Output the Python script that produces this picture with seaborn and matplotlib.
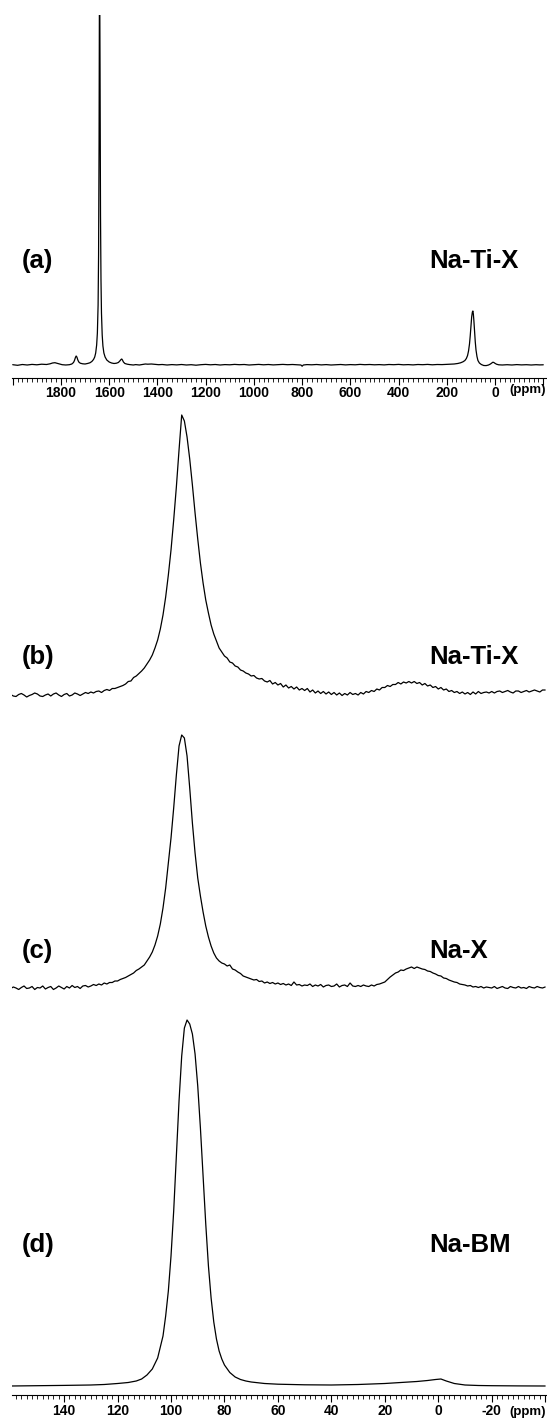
import numpy as np
import pandas as pd
import matplotlib
matplotlib.use("Agg")
import matplotlib.pyplot as plt
import seaborn as sns
from matplotlib.ticker import MultipleLocator, FuncFormatter

sns.set_theme(style="white")
plt.rcParams['font.family'] = ['Liberation Sans', 'DejaVu Sans']
plt.rcParams['text.color'] = 'black'

# ---------------- data ----------------
# panel (a): wide 23Na scan, ppm vs intensity (arbitrary units)
a_ppm = [2000, 1980, 1960, 1940, 1920, 1900, 1880, 1860, 1845, 1835, 1825, 1815, 1805, 1795,
         1780, 1765, 1755, 1748, 1744, 1740, 1737, 1734, 1730, 1726, 1720, 1710, 1700, 1690,
         1680, 1672, 1665, 1660, 1656, 1652, 1649, 1646, 1644, 1642, 1640, 1638, 1636, 1634,
         1632, 1629, 1626, 1622, 1617, 1610, 1600, 1590, 1580, 1570, 1562, 1556, 1551, 1548,
         1545, 1541, 1535, 1525, 1515, 1500, 1490, 1475, 1460, 1450, 1440, 1425, 1410, 1395,
         1380, 1360, 1340, 1320, 1300, 1280, 1260, 1240, 1220, 1200, 1180, 1160, 1140, 1120,
         1100, 1080, 1060, 1040, 1020, 1000, 980, 960, 940, 920, 900, 880, 860, 840, 820, 805,
         800, 795, 780, 760, 740, 720, 700, 680, 660, 640, 620, 600, 580, 560, 540, 520, 500,
         480, 460, 440, 420, 400, 380, 360, 340, 320, 300, 280, 260, 240, 220, 200, 185, 170,
         155, 143, 133, 125, 119, 114, 110, 106, 103, 100, 97, 94, 92, 90, 88, 85, 82, 79, 75,
         71, 65, 57, 47, 37, 27, 19, 13, 9, 5, 1, -6, -15, -30, -50, -70, -90, -110, -130,
         -150, -170, -185, -200]
a_int = [0.3, -0.3, 0.5, 0.0, 0.6, 0.2, 0.8, 0.5, 1.2, 2.0, 2.3, 1.6, 0.8, 0.3,
         0.0, 0.3, 1.0, 2.5, 4.5, 7.5, 9.0, 8.0, 5.0, 3.0, 1.8, 1.2, 1.0, 1.5,
         2.2, 3.5, 5.5, 8.0, 12, 20, 32, 60, 110, 220, 420, 300, 150, 85,
         52, 30, 19, 12, 8.0, 5.0, 3.0, 2.0, 1.5, 1.8, 2.5, 4.0, 5.5, 6.0,
         5.0, 3.0, 1.5, 0.8, 0.4, 0.0, 0.4, 0.0, 0.6, 1.0, 0.8, 1.0, 0.6, 0.3,
         0.5, 0.0, 0.4, 0.1, 0.5, 0.0, 0.3, -0.2, 0.3, 0.6, 0.2, 0.5, 0.0, 0.4,
         0.2, 0.6, 0.3, 0.5, 0.0, 0.3, 0.6, 0.2, 0.5, 0.1, 0.4, 0.6, 0.3, 0.5, 0.2, 0.0,
         -1.2, 0.0, 0.4, 0.2, 0.5, 0.1, 0.4, 0.0, 0.3, 0.5, 0.1, 0.4, 0.2, 0.6, 0.3, 0.5, 0.2,
         0.4, 0.1, 0.5, 0.3, 0.6, 0.2, 0.4, 0.1, 0.5, 0.3, 0.6, 0.2, 0.5, 0.4, 0.6, 0.8, 1.0,
         1.5, 2.2, 3.2, 4.5, 6.5, 9.5, 14, 21, 29, 39, 48, 53, 54, 51, 45, 34, 23, 15, 8.5,
         4.5, 2.0, 0.5, -0.5, -0.6, 0.0, 1.0, 2.0, 2.8, 2.5, 1.8, 0.8, 0.2, 0.0, 0.3, 0.0, 0.4, 0.1, 0.3,
         0.0, 0.3, 0.1, 0.2]

# panels (b) and (c): one point per ppm, from 160 down to -40 ppm
bc_ppm = np.arange(160, -41, -1)
b_int = [0.5, -1, -1.5, 0.5, 1.5, 0, -2, -0.5, 0.5, 2, 1, -1, -1.5, 0, 1, -1, 1, 2, 0, -1.5,
         0.5, 1.5, -1, 0, 2, 1, -0.5, 1, 2.5, 1.5,
         3, 2, 3.5, 4, 2.5, 4.5, 5.5, 4.5, 6.5, 6.5,
         7.5, 8.5, 9.5, 11, 13.5, 14, 17.5, 19, 21.5, 24,
         27, 31, 35, 40, 47, 55, 66, 80, 98, 120,
         145, 175, 208, 245, 280, 274, 258, 236, 210, 182,
         156, 132, 112, 95, 82, 70, 61, 54, 47, 43,
         39, 37, 33, 32, 29, 28, 25, 24, 22, 21,
         19, 19.5, 17, 16, 16.5, 14, 13, 14.5, 11, 12.5,
         10, 11.5, 8, 10, 7, 8.5, 6, 8, 5, 6.5,
         4.5, 6.5, 3, 5, 2, 4, 1.5, 3.5, 1, 3,
         0.5, 2.5, 0, 2, -0.5, 1.5, 0, 2.5, 0.5, 1.5,
         0, 2.5, 1, 3.5, 2.5, 4.5, 3.5, 6, 5, 7.5,
         7.5, 9.5, 8.5, 10.5, 10.5, 12.5, 11, 13, 12, 13.5,
         12, 13.5, 11.5, 12.5, 10, 11.5, 9, 10, 7.5, 8.5,
         6, 7.5, 5, 6, 3.5, 4.5, 2.5, 3.5, 1.5, 3,
         1, 2.5, 0.5, 3, 1, 3.5, 1.5, 2.5, 3, 2,
         3.5, 2, 3.5, 4, 2.5, 3.5, 4.5, 3, 2, 4,
         4, 2.5, 3.5, 4.5, 3, 4, 5, 4, 3, 5, 5]
c_int = [-0.5, 1, 0, -1.5, 0.5, 2, -0.5, 0, 1.5, -1.5, 0.5, 0, 2, -1, 0.5, 1.5, -1.5, 0, 2, 0.5,
         -1, 1.5, 0, 2.5, 0.5, 1.5, -0.5, 2, 2.5, 1,
         2, 3.5, 2.5, 4, 3, 5, 4, 5.5, 5.5, 7,
         7, 8.5, 9.5, 10.5, 12, 13.5, 15, 17.5, 19, 21,
         23, 27, 31, 36, 43, 52, 64, 80, 100, 125,
         150, 180, 213, 242, 253, 250, 232, 200, 165, 135,
         110, 92, 76, 62, 51, 42, 35, 30, 27, 25,
         24, 22, 23, 19, 18, 16, 14.5, 12, 11, 10,
         9, 8, 8.5, 6.5, 7, 5, 6, 4.5, 5.5, 4,
         5, 3.5, 4.5, 3, 4, 2.5, 6, 3, 3.5, 2,
         3, 2.5, 4, 1.5, 3, 2, 3.5, 1, 2.5, 3,
         1.5, 2, 4, 1, 2.5, 3, 1.5, 5, 2, 1.5,
         2.5, 1.5, 3, 2, 1.5, 3, 2, 3.5, 4, 5,
         6, 8.5, 11, 13, 15, 16, 18, 17.5, 19, 20,
         21, 19.5, 21, 20, 19, 18.5, 17, 16.5, 15, 14,
         12.5, 12, 10, 9.5, 8, 7, 6, 5.5, 4, 3.5,
         3, 2, 2.5, 1, 1.5, 0.5, 1.5, 0, 1, 0.5,
         0, 1.5, -0.5, 0.5, 1.5, 0, -0.5, 1.5, 0.5, 0,
         1.5, 0, 0.5, -0.5, 1.5, 0.5, 0, 1.5, 0.5, 0, 1]

# panel (d): smooth spectrum
d_ppm = [160, 150, 140, 130, 125, 120, 116, 113, 111, 109, 107, 105, 103, 102, 101, 100, 99, 98,
         97, 96, 95, 94, 93, 92, 91, 90, 89, 88, 87, 86, 85, 84, 83, 82, 81, 80, 78, 76, 74, 72,
         70, 65, 60, 50, 40, 30, 20, 14, 8, 4, 1, -1, -3, -6, -10, -15, -20, -30, -40]
d_int = [0, 0.3, 0.6, 1, 1.5, 2.5, 3.5, 5, 7, 11, 17, 28, 50, 70, 95, 130, 175, 230,
         285, 330, 358, 366, 362, 352, 332, 300, 258, 210, 162, 120, 88, 64, 47, 35, 27, 21,
         13.5, 9, 6.5, 5, 4, 2.5, 1.8, 1.2, 1, 1.5, 2.5, 3.5, 4.5, 5.5, 6.5, 7, 5, 2.5,
         1, 0.5, 0.3, 0.1, 0]

panel_letters = ["(a)", "(b)", "(c)", "(d)"]
sample_names = ["Na-Ti-X", "Na-Ti-X", "Na-X", "Na-BM"]
top_ticks = [1800, 1600, 1400, 1200, 1000, 800, 600, 400, 200, 0]
bottom_ticks = [140, 120, 100, 80, 60, 40, 20, 0, -20]

# ---------------- layout (pixels) ----------------
W, H = 547, 1421
fig = plt.figure(figsize=(W / 100, H / 100), dpi=100)
fig.patch.set_facecolor("white")

def frac_box(x0, y_top, x1, y_bot):
    return [x0 / W, 1 - y_bot / H, (x1 - x0) / W, (y_bot - y_top) / H]

X0, X1 = 12, 545.7
ax_a = fig.add_axes(frac_box(X0, 15, X1, 377.7))
ax_b = fig.add_axes(frac_box(X0, 400, X1, 1395))

TICK_FS = 10
unit_font = dict(fontsize=9.5, fontweight="bold")

lw = 0.9
df_a = pd.DataFrame({"ppm": a_ppm, "I": a_int})
sns.lineplot(data=df_a, x="ppm", y="I", ax=ax_a, color="black", lw=lw,
             sort=False, estimator=None)
ax_a.set_xlim(2003, -210)
ax_a.set_ylim(-12.7, 350)
ax_a.xaxis.set_major_locator(MultipleLocator(200))
ax_a.xaxis.set_minor_locator(MultipleLocator(20))
ax_a.xaxis.set_major_formatter(FuncFormatter(
    lambda v, p: f"{int(round(v))}" if int(round(v)) in top_ticks else ""))

# offsets of baselines (pixels above bottom axis line)
off_b, off_c, off_d = 700, 407, 9
for vals, ppm, off in ((b_int, bc_ppm, off_b), (c_int, bc_ppm, off_c), (d_int, d_ppm, off_d)):
    df = pd.DataFrame({"ppm": ppm, "I": np.asarray(vals, dtype=float) + off})
    sns.lineplot(data=df, x="ppm", y="I", ax=ax_b, color="black", lw=lw,
                 sort=False, estimator=None)
ax_b.set_xlim(159.5, -40.2)
ax_b.set_ylim(0, 995)
ax_b.xaxis.set_major_locator(MultipleLocator(20))
ax_b.xaxis.set_minor_locator(MultipleLocator(2))
ax_b.xaxis.set_major_formatter(FuncFormatter(
    lambda v, p: f"{int(round(v))}" if int(round(v)) in bottom_ticks else ""))

for ax in (ax_a, ax_b):
    ax.set_xlabel("")
    ax.set_ylabel("")
    ax.set_facecolor("none")
    for s in ("top", "left", "right"):
        ax.spines[s].set_visible(False)
    ax.spines["bottom"].set_color("black")
    ax.spines["bottom"].set_linewidth(0.8)
    ax.set_yticks([])
    ax.grid(False)
    ax.tick_params(axis="x", which="both", bottom=True, top=False, direction="out",
                   color="black")
    ax.tick_params(axis="x", which="major", length=5, width=0.8,
                   labelsize=TICK_FS, labelcolor="black", pad=1.2)
    ax.tick_params(axis="x", which="minor", length=2.8, width=0.6)
    for t in ax.get_xticklabels():
        t.set_fontweight("bold")

# "(ppm)" unit labels
fig.text(546 / W, 1 - 390.5 / H, "(ppm)", ha="right", va="center", **unit_font)
fig.text(546 / W, 1 - 1411.5 / H, "(ppm)", ha="right", va="center", **unit_font)

# panel labels (baseline positions in px)
label_base = [268, 664, 958, 1252]
for letter, name, yb in zip(panel_letters, sample_names, label_base):
    fig.text(22 / W, 1 - yb / H, letter, ha="left", va="baseline",
             fontsize=18.5, fontweight="bold")
    fig.text(429 / W, 1 - yb / H, name, ha="left", va="baseline",
             fontsize=18.5, fontweight="bold")

fig.savefig("out.png", dpi=100, facecolor="white")
